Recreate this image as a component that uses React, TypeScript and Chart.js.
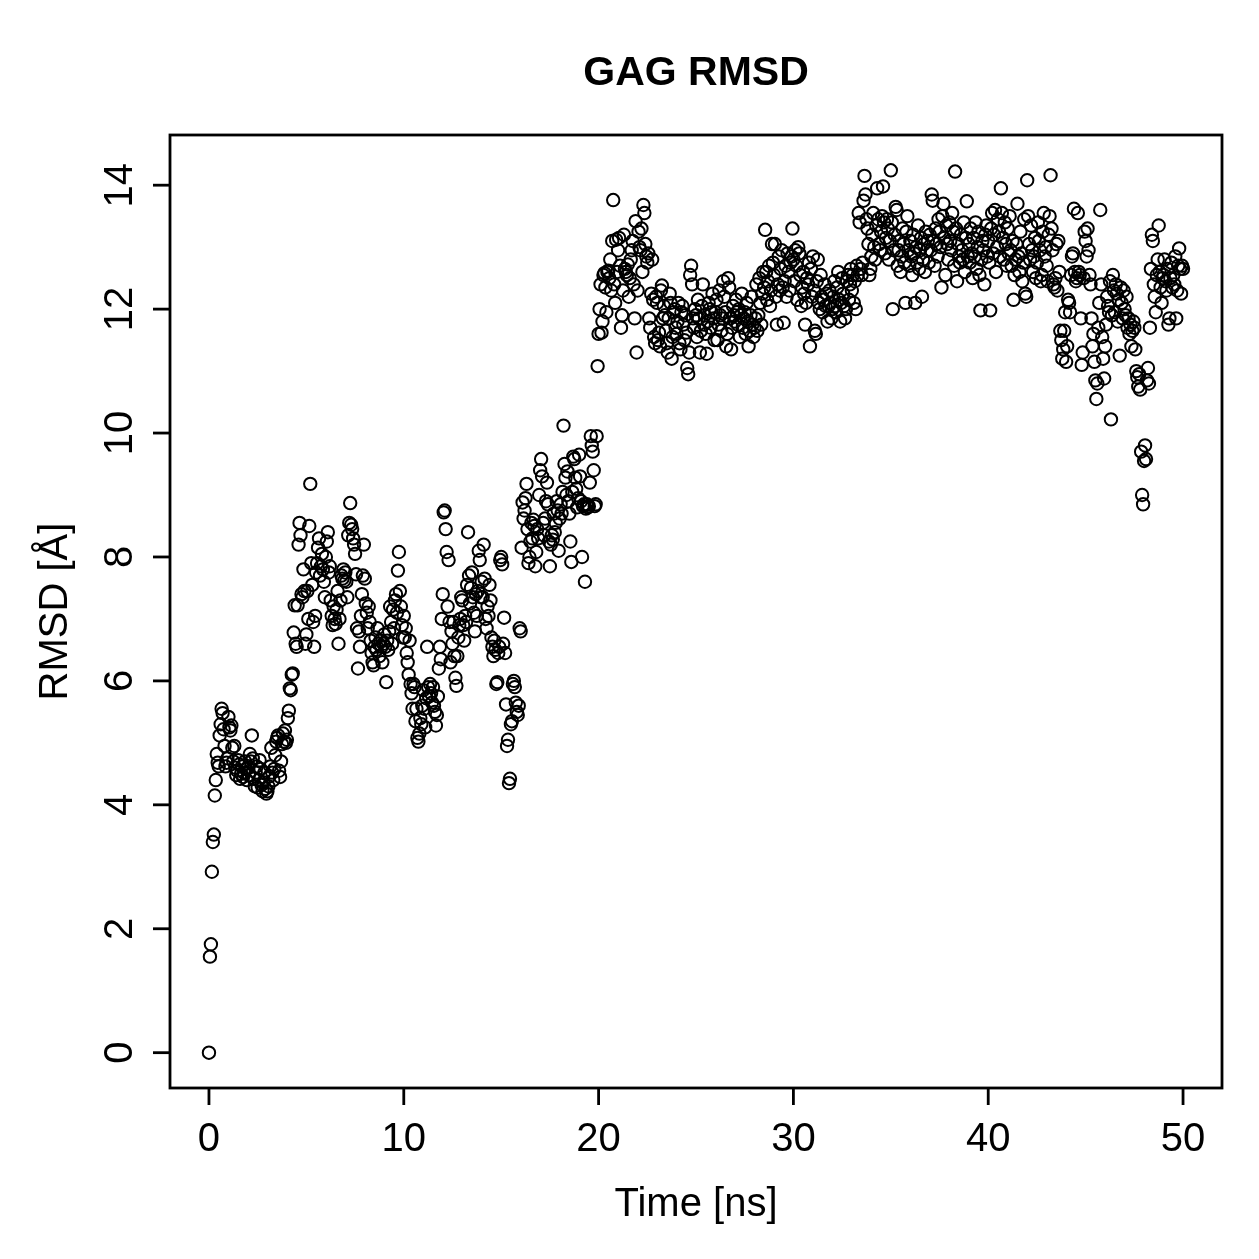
import React, { useEffect, useRef } from "react";
import { Chart, registerables } from "chart.js";

Chart.register(...registerables);

// Simulation frames are written every 0.05 ns, starting at t = 0.
const FRAME_STEP_NS = 0.05;

// Backbone RMSD (Å) per frame, one row per nanosecond.
const rmsdValues: number[] = [
  0.0, 1.55, 1.75, 2.92, 3.4, 3.52, 4.15, 4.4, 4.82, 4.68, 4.62, 5.12, 5.3, 5.55, 5.48, 5.22, 4.95, 4.62, 4.68, 4.75,
  5.42, 5.25, 5.2, 5.28, 4.92, 4.7, 4.95, 4.6, 4.48, 4.55, 4.72, 4.65, 4.42, 4.5, 4.62, 4.45, 4.52, 4.7, 4.58, 4.4,
  4.6, 4.48, 4.82, 4.7, 5.12, 4.75, 4.42, 4.3, 4.52, 4.62, 4.28, 4.4, 4.72, 4.58, 4.32, 4.22, 4.36, 4.52, 4.26, 4.18,
  4.22, 4.3, 4.46, 4.62, 4.92, 4.52, 4.4, 4.58, 4.8, 5.02, 5.08, 5.12, 4.55, 4.45, 4.7, 4.98, 5.15, 5.02, 5.2, 5.0,
  5.05, 5.4, 5.52, 5.88, 5.85, 6.1, 6.12, 6.78, 7.22, 6.6, 6.55, 7.22, 8.2, 8.55, 8.35, 7.4, 7.35, 7.8, 7.45, 6.6,
  6.75, 7.45, 7.0, 8.5, 9.18, 7.9, 7.55, 6.95, 6.55, 7.05, 7.75, 7.9, 8.15, 8.3, 7.7, 7.85, 8.05, 7.8, 7.6, 7.35,
  8.0, 8.25, 8.4, 7.75, 7.85, 7.3, 7.05, 6.9, 7.2, 7.0, 6.92, 7.15, 7.45, 6.6, 7.0, 7.3, 7.7, 7.65, 7.8, 7.62,
  7.75, 7.6, 7.35, 8.35, 8.55, 8.87, 8.52, 8.45, 8.3, 8.2, 8.05, 7.72, 6.85, 6.2, 6.8, 6.55, 7.05, 7.4, 7.7, 8.2,
  7.65, 7.25, 7.1, 6.85, 7.2, 6.95, 6.65, 6.45, 6.3, 6.25, 6.55, 6.7, 6.5, 6.85, 6.6, 6.4, 6.65, 6.55, 6.3, 6.6,
  6.75, 6.55, 5.98, 6.65, 6.5, 6.8, 7.2, 6.95, 6.6, 7.15, 6.85, 7.3, 7.4, 7.1, 7.78, 8.08, 7.45, 7.2, 6.9, 6.7,
  7.05, 6.7, 6.85, 6.45, 6.3, 6.1, 6.65, 5.95, 5.8, 5.55, 5.95, 5.9, 5.35, 5.55, 5.08, 5.02, 5.15, 5.4, 5.3, 5.6,
  5.85, 5.55, 5.25, 5.72, 6.55, 5.9, 5.75, 5.95, 5.8, 5.65, 5.9, 5.6, 5.5, 5.28, 5.45, 5.75, 6.2, 6.55, 6.35, 7.0,
  7.4, 8.72, 8.75, 8.45, 8.08, 7.2, 7.95, 6.95, 6.3, 6.8, 6.6, 6.95, 6.4, 6.05, 5.92, 6.4, 6.7, 6.9, 7.0, 7.35,
  7.3, 6.9, 6.65, 7.05, 6.95, 7.55, 8.4, 7.7, 7.25, 7.5, 7.75, 7.35, 7.1, 6.8, 7.4, 7.05, 7.45, 8.1, 7.95, 7.35,
  7.6, 7.35, 8.2, 7.65, 7.0, 6.85, 7.2, 7.05, 7.55, 7.3, 6.7, 6.55, 6.4, 6.65, 6.5, 5.95, 5.98, 6.45, 6.55, 7.95,
  8.0, 7.88, 6.6, 7.02, 6.45, 5.62, 4.95, 5.05, 4.35, 4.42, 5.3, 5.35, 5.95, 6.0, 5.9, 5.65, 5.5, 5.45, 5.6, 6.85,
  6.8, 8.15, 8.88, 8.62, 8.75, 8.95, 9.18, 8.45, 7.9, 8.0, 8.25, 8.55, 8.3, 8.6, 8.5, 7.85, 8.08, 8.45, 8.3, 9.0,
  9.4, 9.58, 9.3, 8.55, 8.35, 8.62, 8.9, 9.2, 8.85, 8.25, 7.85, 8.2, 8.35, 8.28, 8.7, 8.4, 8.55, 8.9, 8.75, 8.1,
  8.62, 8.85, 8.7, 9.05, 10.12, 9.5, 9.28, 9.0, 9.38, 8.9, 8.7, 8.25, 7.92, 9.05, 9.62, 9.58, 9.28, 9.1, 8.8, 8.95,
  9.65, 9.3, 8.9, 8.0, 8.82, 8.85, 7.6, 8.78, 8.85, 8.8, 8.82, 9.2, 9.95, 9.8, 9.7, 9.4, 8.82, 8.85, 9.95, 11.08,
  11.6, 12.0, 12.4, 11.62, 11.8, 12.55, 12.58, 12.35, 11.95, 12.6, 12.62, 12.5, 12.8, 12.3, 13.1, 13.76, 12.4, 12.1, 13.12, 12.6,
  12.95, 13.15, 12.7, 11.7, 11.9, 12.3, 13.2, 12.65, 12.6, 12.55, 12.72, 12.2, 12.5, 12.8, 12.95, 13.1, 12.4, 11.85, 13.42, 11.3,
  12.3, 13.25, 13.0, 12.95, 13.3, 12.6, 13.68, 13.55, 13.05, 12.85, 12.75, 12.9, 11.85, 11.7, 12.25, 12.8, 12.15, 11.55, 11.45, 12.2,
  12.1, 11.5, 11.62, 11.4, 12.3, 12.38, 11.85, 12.05, 11.9, 11.65, 11.45, 11.3, 11.85, 12.25, 12.1, 11.2, 11.55, 11.95, 12.0, 11.7,
  11.6, 11.8, 12.1, 11.45, 11.35, 11.95, 12.05, 11.75, 11.5, 11.9, 11.62, 11.05, 10.95, 11.3, 12.55, 12.7, 12.4, 11.85, 11.7, 12.0,
  11.9, 11.55, 12.15, 11.85, 11.3, 11.65, 12.05, 12.4, 11.75, 11.9, 11.6, 11.28, 11.8, 12.1, 12.0, 11.7, 11.95, 12.25, 11.85, 11.5,
  11.95, 12.15, 11.5, 11.75, 12.3, 11.9, 11.65, 11.85, 12.45, 12.2, 11.95, 11.4, 11.6, 12.5, 12.35, 11.85, 11.35, 11.7, 12.05, 11.9,
  11.8, 12.15, 11.95, 11.75, 12.0, 11.55, 11.9, 12.25, 11.7, 11.85, 11.95, 11.6, 12.1, 11.8, 11.4, 11.65, 11.9, 12.2, 11.75, 11.55,
  11.7, 11.85, 12.4, 11.65, 11.9, 12.5, 12.1, 11.75, 12.25, 12.6, 12.35, 13.28, 12.6, 12.15, 12.45, 12.7, 12.05, 12.3, 13.05, 12.75,
  12.55, 13.05, 12.2, 11.75, 12.4, 12.85, 12.3, 12.65, 12.95, 12.35, 11.78, 12.45, 12.7, 12.2, 12.9, 12.6, 12.3, 12.75, 12.85, 13.3,
  12.8, 12.45, 12.95, 12.7, 12.15, 13.0, 12.9, 12.55, 12.05, 12.35, 12.6, 12.25, 11.75, 12.1, 12.5, 12.4, 12.75, 11.4, 12.65, 12.2,
  12.85, 12.3, 11.65, 11.6, 12.45, 12.8, 12.1, 12.0, 12.55, 12.2, 11.95, 12.15, 12.4, 12.05, 12.25, 11.8, 12.05, 12.3, 12.1, 11.85,
  12.0, 12.2, 12.45, 12.05, 11.95, 12.35, 12.6, 12.15, 11.8, 12.1, 12.5, 12.25, 12.05, 11.85, 12.0, 12.45, 12.55, 12.15, 12.4, 12.65,
  12.3, 12.55, 12.1, 12.45, 12.0, 12.7, 12.55, 13.55, 13.4, 12.65, 12.55, 12.75, 13.75, 14.15, 13.85, 13.45, 13.3, 13.05, 12.55, 12.65,
  12.85, 13.2, 13.55, 13.0, 12.8, 13.35, 13.95, 13.45, 13.05, 12.95, 13.25, 13.5, 13.98, 13.4, 12.9, 13.15, 13.45, 13.3, 12.8, 13.1,
  14.24, 13.4, 12.0, 12.95, 13.2, 13.65, 13.6, 12.7, 12.95, 13.1, 12.6, 12.85, 13.3, 13.05, 12.75, 12.1, 13.25, 13.5, 12.95, 12.7,
  13.1, 12.85, 12.55, 13.2, 12.9, 12.1, 13.0, 12.75, 13.35, 12.65, 12.95, 13.15, 12.2, 12.8, 13.05, 12.6, 13.25, 12.95, 13.1, 12.75,
  13.2, 12.95, 13.85, 13.75, 13.1, 12.7, 13.3, 13.05, 12.85, 13.45, 13.25, 13.0, 12.35, 13.5, 13.7, 13.15, 12.55, 13.35, 13.05, 12.8,
  13.4, 13.1, 12.95, 13.55, 13.25, 12.7, 14.22, 13.3, 12.45, 13.05, 12.85, 12.75, 13.2, 12.95, 12.8, 13.4, 12.6, 13.15, 13.74, 12.85,
  13.05, 12.75, 13.3, 12.9, 12.5, 13.15, 12.85, 13.4, 12.65, 13.0, 13.25, 12.55, 11.98, 12.8, 13.1, 12.95, 12.4, 13.2, 13.35, 12.85,
  13.1, 12.75, 11.98, 13.3, 13.55, 12.9, 13.2, 13.6, 12.6, 13.0, 13.45, 13.25, 12.85, 13.95, 13.55, 13.15, 12.8, 13.4, 13.05, 12.7,
  13.3, 12.9, 13.5, 12.95, 12.7, 13.1, 12.15, 12.55, 12.8, 13.05, 13.7, 12.85, 12.6, 13.25, 12.9, 12.45, 12.75, 13.45, 12.25, 12.2,
  14.08, 13.5, 13.05, 12.8, 13.35, 12.95, 12.6, 12.85, 13.15, 12.5, 12.75, 13.4, 13.1, 12.95, 12.45, 12.55, 13.25, 13.55, 12.85, 13.0,
  12.7, 12.45, 13.2, 13.5, 14.16, 13.3, 12.95, 12.4, 12.35, 12.5, 13.05, 12.3, 13.1, 12.6, 11.65, 11.5, 11.2, 11.35, 11.65, 11.95,
  11.15, 11.4, 12.15, 12.1, 11.95, 12.55, 12.85, 12.9, 13.62, 12.6, 12.45, 12.5, 13.55, 12.6, 12.55, 11.85, 11.1, 11.3, 12.5, 13.25,
  13.1, 12.85, 13.3, 12.95, 12.55, 12.4, 11.85, 11.4, 11.6, 11.15, 10.85, 10.55, 10.8, 11.7, 12.1, 13.6, 12.4, 11.55, 11.2, 10.88,
  11.4, 11.75, 12.2, 12.05, 11.95, 12.45, 10.22, 11.9, 12.55, 12.3, 11.95, 12.4, 12.25, 11.8, 12.15, 11.25, 12.35, 12.1, 11.85, 12.3,
  12.0, 11.9, 12.2, 11.7, 11.85, 11.6, 11.75, 11.4, 11.65, 11.8, 11.7, 11.35, 11.0, 10.9, 10.75, 10.95, 10.7, 9.7, 9.0, 8.85,
  9.55, 9.8, 9.58, 10.85, 11.05, 10.8, 11.7, 12.65, 13.2, 13.1, 12.4, 12.2, 11.95, 12.55, 12.8, 13.35, 12.6, 12.35, 12.1, 12.5,
  12.55, 12.8, 12.45, 12.3, 12.65, 11.75, 11.85, 12.5, 12.75, 12.35, 12.55, 12.4, 12.85, 11.85, 12.3, 12.7, 12.98, 12.65, 12.25, 12.7,
  12.65,
];

const chartTitle = "GAG RMSD";
const xAxisTitle = "Time [ns]";
const yAxisTitle = "RMSD [Å]";
const xTickValues = [0, 10, 20, 30, 40, 50];
const yTickValues = [0, 2, 4, 6, 8, 10, 12, 14];

const FONT = '"Liberation Sans", Arial, Helvetica, sans-serif';

// Base-graphics style decorations: box, outward ticks, rotated y labels, titles.
const basePlotDecor = {
  id: "basePlotDecor",
  afterDraw(chart: any) {
    const { ctx, chartArea, scales } = chart;
    const xs = scales.x;
    const ys = scales.y;
    const { left, right, top, bottom } = chartArea;
    const tickLen = 17;

    ctx.save();
    ctx.strokeStyle = "#000";
    ctx.fillStyle = "#000";
    ctx.lineWidth = 2.8;
    ctx.lineCap = "butt";
    ctx.strokeRect(left, top, right - left, bottom - top);

    // x ticks and labels
    ctx.font = `40px ${FONT}`;
    ctx.textAlign = "center";
    ctx.textBaseline = "alphabetic";
    for (const v of xTickValues) {
      const px = xs.getPixelForValue(v);
      ctx.beginPath();
      ctx.moveTo(px, bottom);
      ctx.lineTo(px, bottom + tickLen);
      ctx.stroke();
      ctx.fillText(String(v), px, 1151);
    }

    // y ticks and rotated labels
    for (const v of yTickValues) {
      const py = ys.getPixelForValue(v);
      ctx.beginPath();
      ctx.moveTo(left, py);
      ctx.lineTo(left - tickLen, py);
      ctx.stroke();
      ctx.save();
      ctx.translate(132, py);
      ctx.rotate(-Math.PI / 2);
      ctx.fillText(String(v), 0, 0);
      ctx.restore();
    }

    // axis titles
    const cx = (left + right) / 2;
    const cy = (top + bottom) / 2;
    ctx.fillText(xAxisTitle, cx, 1216);
    ctx.save();
    ctx.translate(67, cy);
    ctx.rotate(-Math.PI / 2);
    ctx.fillText(yAxisTitle, 0, 0);
    ctx.restore();

    // main title
    ctx.font = `bold 41px ${FONT}`;
    ctx.fillText(chartTitle, cx, 85);
    ctx.restore();
  },
};

export default function App() {
  const canvasRef = useRef<HTMLCanvasElement | null>(null);

  useEffect(() => {
    document.body.style.margin = "0";
    const canvas = canvasRef.current;
    if (!canvas) return;

    const points = rmsdValues.map((v, i) => ({ x: i * FRAME_STEP_NS, y: v }));

    const chart = new Chart(canvas, {
      type: "scatter",
      data: {
        datasets: [
          {
            data: points,
            pointStyle: "circle",
            pointRadius: 6.2,
            pointBorderWidth: 2,
            pointBorderColor: "#000",
            pointBackgroundColor: "rgba(0,0,0,0)",
            pointHoverRadius: 6.2,
          },
        ],
      },
      options: {
        responsive: false,
        animation: false,
        events: [],
        layout: { padding: { left: 170, right: 37, top: 135, bottom: 171 } },
        plugins: {
          legend: { display: false },
          title: { display: false },
          tooltip: { enabled: false },
        },
        scales: {
          x: { type: "linear", min: -2, max: 52, display: false },
          y: { type: "linear", min: -0.57, max: 14.81, display: false },
        },
      },
      plugins: [basePlotDecor],
    });

    return () => chart.destroy();
  }, []);

  return (
    <div style={{ position: "absolute", left: 0, top: 0, width: 1259, height: 1259, background: "#fff" }}>
      <canvas ref={canvasRef} width={1259} height={1259} style={{ display: "block" }} />
    </div>
  );
}
